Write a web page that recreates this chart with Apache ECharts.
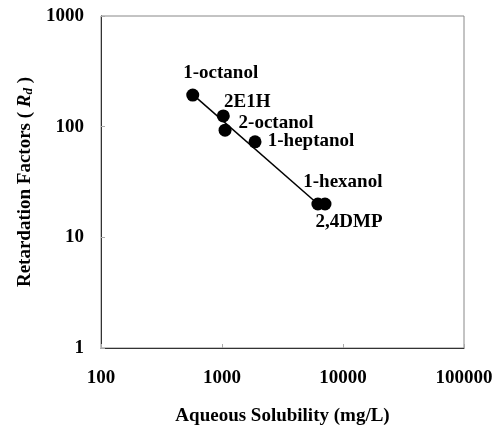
<!DOCTYPE html>
<html>
<head>
<meta charset="utf-8">
<script src="https://cdn.jsdelivr.net/npm/echarts@6/dist/echarts.min.js"></script>
<style>
  html, body { margin: 0; padding: 0; background: #fff; }
  #chart { width: 499px; height: 428px; }
</style>
</head>
<body>
<div id="chart"></div>
<script>
// 化合物名称
const names = ['1-octanol', '2E1H', '2-octanol', '1-heptanol', '1-hexanol', '2,4DMP'];
// 水溶解度 (mg/L)
const solubility = [573, 1025, 1060, 1875, 6200, 7100];
// 阻滞因子 Rd
const rd = [193, 125, 93, 73, 20, 20];
// 拟合直线两端
const fitX = [575, 6200];
const fitY = [195, 20];

// 标签相对点中心的偏移
const labelOffset = {
    '1-octanol': [28, -22],
    '2E1H': [24, -14],
    '2-octanol': [51, -7],
    '1-heptanol': [56, -1],
    '1-hexanol': [25, -22],
    '2,4DMP': [24, 18]
};

const font = '"Liberation Serif", "Times New Roman", serif';

const points = names.map((n, i) => ({
    name: n,
    value: [solubility[i], rd[i]],
    label: {offset: labelOffset[n]}
}));

const chart = echarts.init(document.getElementById('chart'), null, {renderer: 'canvas'});

chart.setOption({
    animation: false,
    backgroundColor: '#fff',
    grid: {
        left: 101, right: 35, top: 16, bottom: 80,
        outerBoundsMode: 'none',
        show: true, borderColor: '#888', borderWidth: 1
    },
    xAxis: {
        type: 'log',
        logBase: 10,
        min: 100,
        max: 100000,
        name: 'Aqueous Solubility (mg/L)',
        nameLocation: 'middle',
        nameGap: 59,
        nameTextStyle: {fontFamily: font, fontWeight: 'bold', fontSize: 19, color: '#000'},
        axisLine: {lineStyle: {color: '#333', width: 1}},
        axisTick: {inside: true, length: 4, lineStyle: {color: '#aaa'}},
        axisLabel: {
            fontFamily: font, fontWeight: 'bold', fontSize: 19, color: '#000', margin: 21,
            formatter: v => String(Math.round(v))
        },
        splitLine: {show: false}
    },
    yAxis: {
        type: 'log',
        logBase: 10,
        min: 1,
        max: 1000,
        name: '{a|Retardation Factors ( }{r|R}{s|d}{a| )}',
        nameLocation: 'middle',
        nameRotate: 90,
        nameGap: 66,
        nameTextStyle: {
            rich: {
                a: {fontFamily: font, fontWeight: 'bold', fontSize: 19, color: '#000'},
                r: {fontFamily: font, fontWeight: 'bold', fontStyle: 'italic', fontSize: 19, color: '#000'},
                s: {fontFamily: font, fontWeight: 'bold', fontStyle: 'italic', fontSize: 13, color: '#000', padding: [6, 0, 0, 0]}
            }
        },
        axisLine: {lineStyle: {color: '#333', width: 1}},
        axisTick: {inside: true, length: 4, lineStyle: {color: '#aaa'}},
        axisLabel: {
            fontFamily: font, fontWeight: 'bold', fontSize: 19, color: '#000', margin: 17,
            formatter: v => String(Math.round(v))
        },
        splitLine: {show: false}
    },
    series: [
        {
            type: 'line',
            data: fitX.map((x, i) => [x, fitY[i]]),
            showSymbol: false,
            lineStyle: {color: '#000', width: 1.5},
            z: 1
        },
        {
            type: 'scatter',
            data: points,
            symbol: 'circle',
            symbolSize: 13,
            itemStyle: {color: '#000', opacity: 1},
            emphasis: {disabled: true},
            label: {
                show: true,
                position: 'inside',
                formatter: '{b}',
                align: 'center',
                verticalAlign: 'middle',
                fontFamily: font,
                fontWeight: 'bold',
                fontSize: 19,
                color: '#000',
                textBorderWidth: 0
            },
            z: 2
        }
    ]
});
</script>
</body>
</html>
